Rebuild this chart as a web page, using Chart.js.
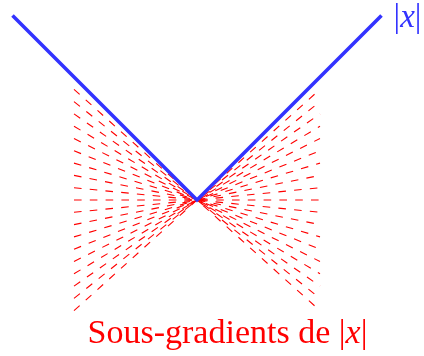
<!DOCTYPE html>
<html>
<head>
<meta charset="utf-8">
<script src="https://cdn.jsdelivr.net/npm/chart.js@4"></script>
<style>
html,body{margin:0;padding:0;background:#fff;}
#wrap{width:424px;height:356px;position:relative;}
</style>
</head>
<body>
<div id="wrap"><canvas id="c"></canvas></div>
<script>
// |x| curve
const absX = [-1.5, 0, 1.5];
const absY = [1.5, 0, 1.5];
// sub-gradient slopes (lines through the origin)
const slopes = [-0.9, -0.8, -0.7, -0.6, -0.5, -0.4, -0.3, -0.2, -0.1, 0, 0.1, 0.2, 0.3, 0.4, 0.5, 0.6, 0.7, 0.8, 0.9];
const subX = [-1, 1];
// text labels
const curveLabel = { x: 1.598, y: 1.407, text: ['|', 'x', '|'] };
const titleLabel = { x: 0.248, y: -1.163, text: ['Sous-gradients de ', '|', 'x', '|'] };

const BLUE = '#3333ff';
const RED = '#ff0000';

const datasets = [{
  data: absX.map((x, i) => ({ x: x, y: absY[i] })),
  borderColor: BLUE,
  borderWidth: 3.6,
  pointRadius: 0,
  showLine: true,
  fill: false,
  tension: 0
}];
slopes.forEach(s => {
  datasets.push({
    data: subX.map(x => ({ x: x, y: s * x })),
    borderColor: RED,
    borderWidth: 1.1,
    borderDash: [7.6, 8.2],
    pointRadius: 0,
    showLine: true,
    fill: false
  });
});

function drawRich(ctx, parts, x, y, align, color, size) {
  const roman = size + 'px "Liberation Serif", "Times New Roman", serif';
  const ital = 'italic ' + size + 'px "Liberation Serif", "Times New Roman", serif';
  const fonts = parts.map(p => p === 'x' ? ital : roman);
  let total = 0;
  const widths = parts.map((p, i) => { ctx.font = fonts[i]; const w = ctx.measureText(p).width; total += w; return w; });
  let cur = align === 'center' ? x - total / 2 : x;
  ctx.fillStyle = color;
  ctx.textBaseline = 'alphabetic';
  ctx.textAlign = 'left';
  parts.forEach((p, i) => { ctx.font = fonts[i]; ctx.fillText(p, cur, y); cur += widths[i]; });
}

const labelPlugin = {
  id: 'labels',
  afterDraw(chart) {
    const ctx = chart.ctx;
    const xs = chart.scales.x, ys = chart.scales.y;
    ctx.save();
    drawRich(ctx, curveLabel.text, xs.getPixelForValue(curveLabel.x), ys.getPixelForValue(curveLabel.y), 'left', BLUE, 33);
    drawRich(ctx, titleLabel.text, xs.getPixelForValue(titleLabel.x), ys.getPixelForValue(titleLabel.y), 'center', RED, 34);
    ctx.restore();
  }
};

new Chart(document.getElementById('c'), {
  type: 'scatter',
  data: { datasets: datasets },
  options: {
    responsive: true,
    maintainAspectRatio: false,
    animation: false,
    layout: { padding: 0 },
    plugins: { legend: { display: false }, tooltip: { enabled: false } },
    scales: {
      x: { type: 'linear', display: false, min: -1.6016, max: 1.8455 },
      y: { type: 'linear', display: false, min: -1.2683, max: 1.626 }
    }
  },
  plugins: [labelPlugin]
});
</script>
</body>
</html>
